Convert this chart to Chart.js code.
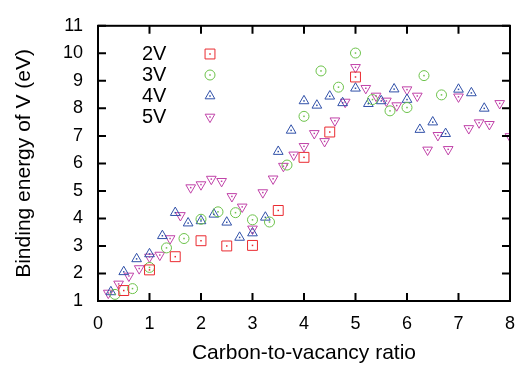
<!DOCTYPE html>
<html>
<head>
<meta charset="utf-8">
<script src="https://cdn.jsdelivr.net/npm/chart.js@4.4.1/dist/chart.umd.min.js"></script>
<style>
  html, body { margin: 0; padding: 0; background: #fff; }
  #wrap { width: 527px; height: 367px; }
</style>
</head>
<body>
<div id="wrap"><canvas id="grafico"></canvas></div>
<script>
const seriesLabels = ['2V', '3V', '4V', '5V'];

const x2V = [0.5, 1.0, 1.5, 2.0, 2.5, 3.0, 3.5, 4.0, 4.5, 5.0];
const y2V = [1.38, 2.13, 2.61, 3.19, 3.00, 3.02, 4.29, 6.22, 7.14, 9.14];

const x3V = [0.33, 0.67, 1.00, 1.33, 1.67, 2.00, 2.33, 2.67, 3.00, 3.33, 3.67, 4.00, 4.33, 4.67, 5.00, 5.33, 5.67, 6.00, 6.33, 6.67];
const y3V = [1.24, 1.45, 2.22, 2.93, 3.27, 3.97, 4.24, 4.21, 3.95, 3.87, 5.94, 7.71, 9.36, 8.77, 10.01, 8.32, 7.91, 8.03, 9.19, 8.49];

const x4V = [0.25, 0.5, 0.75, 1.0, 1.25, 1.5, 1.75, 2.0, 2.25, 2.5, 2.75, 3.0, 3.25, 3.5, 3.75, 4.0, 4.25, 4.5, 4.75, 5.0, 5.25, 5.5, 5.75, 6.0, 6.25, 6.5, 6.75, 7.0, 7.25, 7.5];
const y4V = [1.33, 2.06, 2.53, 2.71, 3.37, 4.21, 3.83, 3.91, 4.15, 3.86, 3.31, 3.47, 4.04, 6.43, 7.20, 8.27, 8.11, 8.44, 8.20, 8.73, 8.17, 8.27, 8.70, 8.32, 7.23, 7.50, 7.08, 8.69, 8.56, 8.00];

const x5V = [0.2, 0.4, 0.6, 0.8, 1.0, 1.2, 1.4, 1.6, 1.8, 2.0, 2.2, 2.4, 2.6, 2.8, 3.0, 3.2, 3.4, 3.6, 3.8, 4.0,
             4.2, 4.4, 4.6, 4.8, 5.0, 5.2, 5.4, 5.6, 5.8, 6.0, 6.2, 6.4, 6.6, 6.8, 7.0, 7.2, 7.4, 7.6, 7.8, 8.0];
const y5V = [1.29, 1.62, 1.91, 2.18, 2.60, 2.67, 3.27, 4.11, 5.12, 5.23, 5.43, 5.35, 4.80, 4.42, 3.62, 4.94, 5.44, 5.90, 6.31, 6.62,
             7.09, 6.80, 7.55, 8.23, 9.49, 8.73, 8.45, 8.27, 8.10, 8.68, 8.45, 6.49, 7.02, 6.51, 8.42, 7.27, 7.48, 7.42, 8.18, 6.98];

const xTicks = [0, 1, 2, 3, 4, 5, 6, 7, 8];
const yTicks = [1, 2, 3, 4, 5, 6, 7, 8, 9, 10, 11];

const cores = ['#ea2a30', '#6cc24a', '#3050a8', '#c042a8'];
const estilos = ['rect', 'circle', 'triangle', 'triangle'];
const rotacoes = [0, 0, 0, 180];
const raios = [7, 5, 5.6, 5.6];
const fonte = "'Liberation Sans', Arial, Helvetica, sans-serif";

function pares(xs, ys) {
    return xs.map((x, i) => ({ x: x, y: ys[i] }));
}

const series = [pares(x2V, y2V), pares(x3V, y3V), pares(x4V, y4V), pares(x5V, y5V)];

// moldura com marcas de escala para dentro, nos quatro lados
const moldura = {
    id: 'moldura',
    afterDraw(chart) {
        const { ctx, chartArea: a, scales } = chart;
        const t = 8;
        ctx.save();
        ctx.strokeStyle = '#000';
        ctx.lineWidth = 2;
        ctx.beginPath();
        xTicks.forEach(v => {
            const px = scales.x.getPixelForValue(v);
            ctx.moveTo(px, a.bottom); ctx.lineTo(px, a.bottom - t);
            ctx.moveTo(px, a.top); ctx.lineTo(px, a.top + t);
        });
        yTicks.forEach(v => {
            const py = scales.y.getPixelForValue(v);
            ctx.moveTo(a.left, py); ctx.lineTo(a.left + t, py);
            ctx.moveTo(a.right, py); ctx.lineTo(a.right - t, py);
        });
        ctx.stroke();
        ctx.strokeRect(a.left, a.top, a.right - a.left, a.bottom - a.top);
        ctx.restore();
    }
};

// ponto central de cada marcador, como no gnuplot
const pontoCentral = {
    id: 'pontoCentral',
    afterDatasetsDraw(chart) {
        const { ctx, chartArea: a } = chart;
        ctx.save();
        ctx.beginPath();
        ctx.rect(a.left, a.top, a.right - a.left, a.bottom - a.top);
        ctx.clip();
        chart.data.datasets.forEach((ds, i) => {
            ctx.fillStyle = cores[i];
            chart.getDatasetMeta(i).data.forEach(el => {
                ctx.fillRect(el.x - 0.75, el.y - 0.75, 1.5, 1.5);
            });
        });
        ctx.restore();
    }
};

// legenda estilo gnuplot: texto e depois o marcador
const legendaChave = {
    id: 'legendaChave',
    afterDraw(chart) {
        const { ctx } = chart;
        ctx.save();
        ctx.font = '20px ' + fonte;
        ctx.textBaseline = 'middle';
        ctx.textAlign = 'left';
        chart.data.datasets.forEach((ds, i) => {
            const y = 54 + i * 21;
            ctx.fillStyle = '#000';
            ctx.fillText(ds.label, 142, y);
            ctx.strokeStyle = cores[i];
            ctx.lineWidth = 1;
            ctx.fillStyle = 'rgba(0,0,0,0)';
            Chart.helpers.drawPoint(ctx, { pointStyle: estilos[i], radius: raios[i], rotation: rotacoes[i], borderWidth: 1 }, 210, y);
            ctx.fillStyle = cores[i];
            ctx.fillRect(209.25, y - 0.75, 1.5, 1.5);
        });
        ctx.restore();
    }
};

new Chart(document.getElementById('grafico').getContext('2d'), {
    type: 'scatter',
    data: {
        datasets: series.map((pts, i) => ({
            label: seriesLabels[i],
            data: pts,
            pointStyle: estilos[i],
            rotation: rotacoes[i],
            pointRadius: raios[i],
            pointHoverRadius: raios[i],
            borderColor: cores[i],
            backgroundColor: 'rgba(0,0,0,0)',
            borderWidth: 1,
            clip: 0
        }))
    },
    options: {
        responsive: true,
        maintainAspectRatio: false,
        animation: false,
        events: [],
        layout: { padding: { top: 15, right: 17, left: 0, bottom: 0 } },
        plugins: { legend: { display: false }, tooltip: { enabled: false } },
        scales: {
            x: {
                type: 'linear', min: 0, max: 8,
                afterFit: s => { s.height = 66; },
                afterBuildTicks: s => { s.ticks = xTicks.map(v => ({ value: v })); },
                grid: { display: false, drawTicks: false },
                border: { display: false },
                ticks: { autoSkip: false, maxRotation: 0, padding: 12, color: '#000', font: { family: fonte, size: 18 } },
                title: { display: true, text: 'Carbon-to-vacancy ratio', color: '#000', padding: { top: 0, bottom: 1 }, font: { family: fonte, size: 21 } }
            },
            y: {
                type: 'linear', min: 1, max: 11,
                afterFit: s => { s.width = 98; },
                afterBuildTicks: s => { s.ticks = yTicks.map(v => ({ value: v })); },
                grid: { display: false, drawTicks: false },
                border: { display: false },
                ticks: { autoSkip: false, padding: 15, color: '#000', font: { family: fonte, size: 18 } },
                title: { display: true, text: 'Binding energy of V (eV)', color: '#000', padding: { top: 12, bottom: 0 }, font: { family: fonte, size: 21 } }
            }
        }
    },
    plugins: [moldura, pontoCentral, legendaChave]
});
</script>
</body>
</html>
